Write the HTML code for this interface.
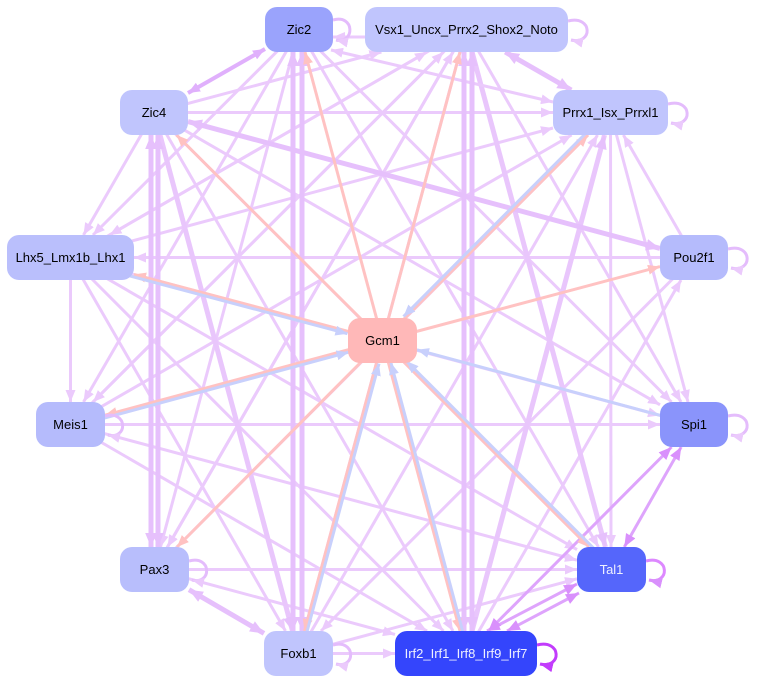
<!DOCTYPE html>
<html><head><meta charset="utf-8"><style>
html,body{margin:0;padding:0;background:#fff;}
svg{display:block;}
text{font-family:"Liberation Sans",Arial,sans-serif;font-size:13px;text-anchor:middle;}
</style></head><body>
<svg width="760" height="683" viewBox="0 0 760 683" xmlns="http://www.w3.org/2000/svg">
<defs>
<marker id="mp" viewBox="0 0 12 10" markerWidth="12" markerHeight="10" refX="12" refY="5" orient="auto-start-reverse" markerUnits="userSpaceOnUse"><path d="M0,0 L12,5 L0,10z" fill="#ebcafc"/></marker>
<marker id="mpt" viewBox="0 0 12 10" markerWidth="14" markerHeight="12" refX="12" refY="5" orient="auto-start-reverse" markerUnits="userSpaceOnUse"><path d="M0,0 L12,5 L0,10z" fill="#e6c0fc"/></marker>
<marker id="md" viewBox="0 0 12 10" markerWidth="12" markerHeight="10" refX="12" refY="5" orient="auto-start-reverse" markerUnits="userSpaceOnUse"><path d="M0,0 L12,5 L0,10z" fill="#e0b0fc"/></marker>
<marker id="ms" viewBox="0 0 12 10" markerWidth="12" markerHeight="10" refX="12" refY="5" orient="auto" markerUnits="userSpaceOnUse"><path d="M0,0 L12,5 L0,10z" fill="#ffc2c2"/></marker>
<marker id="mb" viewBox="0 0 12 10" markerWidth="12" markerHeight="10" refX="12" refY="5" orient="auto" markerUnits="userSpaceOnUse"><path d="M0,0 L12,5 L0,10z" fill="#c8d0fc"/></marker>
<marker id="mv" viewBox="0 0 12 10" markerWidth="13" markerHeight="11" refX="12" refY="5" orient="auto-start-reverse" markerUnits="userSpaceOnUse"><path d="M0,0 L12,5 L0,10z" fill="#d990fc"/></marker>
<marker id="mm" viewBox="0 0 12 10" markerWidth="13" markerHeight="11" refX="12" refY="5" orient="auto" markerUnits="userSpaceOnUse"><path d="M0,0 L12,5 L0,10z" fill="#c23cfc"/></marker>
</defs>

<g stroke="#ebcafc" stroke-width="3" fill="none" marker-end="url(#mp)">
<line x1="365" y1="37" x2="333" y2="37"/>
<line x1="154" y1="112.5" x2="381.4" y2="52"/>
<line x1="154" y1="112.5" x2="553" y2="112.5"/>
<line x1="299" y1="29.5" x2="93" y2="235"/>
<line x1="299" y1="29.5" x2="83.5" y2="402"/>
<line x1="299" y1="29.5" x2="160.5" y2="547"/>
<line x1="299" y1="29.5" x2="671.5" y2="402"/>
<line x1="299" y1="29.5" x2="598.5" y2="547"/>
<line x1="466" y1="29.5" x2="109.5" y2="235"/>
<line x1="466" y1="29.5" x2="93" y2="402"/>
<line x1="466" y1="29.5" x2="167.5" y2="547"/>
<line x1="466" y1="29.5" x2="681" y2="402"/>
<line x1="466" y1="29.5" x2="304.5" y2="631"/>
<line x1="154" y1="112.5" x2="83.5" y2="235"/>
<line x1="154" y1="112.5" x2="453" y2="631"/>
<line x1="154" y1="112.5" x2="589" y2="547"/>
<line x1="154" y1="112.5" x2="660" y2="404.8"/>
<line x1="70.5" y1="257.5" x2="553" y2="128"/>
<line x1="70.5" y1="257.5" x2="427" y2="52"/>
<line x1="694" y1="257.5" x2="134" y2="257.5"/>
<line x1="70.5" y1="257.5" x2="70.5" y2="402"/>
<line x1="70.5" y1="257.5" x2="660" y2="415.4"/>
<line x1="70.5" y1="257.5" x2="577" y2="549.6"/>
<line x1="70.5" y1="257.5" x2="443.5" y2="631"/>
<line x1="70.5" y1="257.5" x2="285.5" y2="631"/>
<line x1="70.5" y1="424.5" x2="660" y2="424.5"/>
<line x1="70.5" y1="424.5" x2="571.6" y2="135"/>
<line x1="70.5" y1="424.5" x2="443.5" y2="52"/>
<line x1="70.5" y1="424.5" x2="577" y2="560.2"/>
<line x1="70.5" y1="424.5" x2="427" y2="631"/>
<line x1="154.5" y1="569.5" x2="577" y2="569.5"/>
<line x1="154.5" y1="569.5" x2="395" y2="634.4"/>
<line x1="154.5" y1="569.5" x2="588" y2="135"/>
<line x1="154.5" y1="569.5" x2="453" y2="52"/>
<line x1="298.5" y1="653.5" x2="395" y2="653.5"/>
<line x1="298.5" y1="653.5" x2="577" y2="578.8"/>
<line x1="298.5" y1="653.5" x2="597.5" y2="135"/>
<line x1="466" y1="653.5" x2="681" y2="280"/>
<line x1="610.5" y1="112.5" x2="611" y2="547"/>
<line x1="610.5" y1="112.5" x2="688" y2="402"/>
<line x1="694" y1="257.5" x2="321" y2="631"/>
<line x1="694" y1="257.5" x2="623.4" y2="135"/>
</g>
<g stroke="#e9c6fc" stroke-width="5" fill="none" marker-end="url(#mpt)">
<line x1="466" y1="29.5" x2="605.4" y2="547"/>
<line x1="154" y1="112.5" x2="292.5" y2="631"/>
<line x1="466" y1="653.5" x2="604.5" y2="135"/>
</g>
<g stroke="#ebcafc" stroke-width="3" fill="none" marker-start="url(#mp)" marker-end="url(#mp)">
<line x1="331" y1="50" x2="553" y2="102"/>
</g>
<g stroke="#e0b0fc" stroke-width="4" fill="none" marker-start="url(#md)" marker-end="url(#md)">
<line x1="265" y1="49" x2="188" y2="93"/>
</g>
<g stroke="#e6c0fc" stroke-width="5" fill="none" marker-start="url(#mpt)" marker-end="url(#mpt)">
<line x1="188" y1="121.6" x2="660" y2="248.4"/>
<line x1="505.2" y1="52" x2="571.3" y2="90"/>
<line x1="293" y1="52" x2="293" y2="631"/>
<line x1="302" y1="52" x2="302" y2="631"/>
<line x1="464" y1="52" x2="464" y2="631"/>
<line x1="472" y1="52" x2="472" y2="631"/>
<line x1="151" y1="135" x2="151" y2="547"/>
<line x1="158" y1="135" x2="158" y2="547"/>
<line x1="189" y1="589.7" x2="264" y2="633.4"/>
</g>
<g stroke="#dea4fc" stroke-width="3" fill="none" marker-start="url(#mv)" marker-end="url(#mv)">
<line x1="487" y1="631" x2="577" y2="584"/>
<line x1="507" y1="631" x2="579" y2="593"/>
<line x1="488.4" y1="631" x2="671.6" y2="447"/>
<line x1="624.3" y1="547" x2="681.2" y2="447"/>
</g>

<g stroke="#ffc2c2" stroke-width="3" fill="none" marker-end="url(#ms)">
<line x1="382.5" y1="340.5" x2="305" y2="52"/>
<line x1="382.5" y1="340.5" x2="460" y2="52"/>
<line x1="382.5" y1="340.5" x2="176.5" y2="135"/>
<line x1="382.5" y1="340.5" x2="588" y2="135"/>
<line x1="382.5" y1="340.5" x2="134" y2="274.4"/>
<line x1="382.5" y1="340.5" x2="660" y2="266.6"/>
<line x1="382.5" y1="340.5" x2="105" y2="415.2"/>
<line x1="382.5" y1="340.5" x2="177" y2="547"/>
<line x1="382.5" y1="340.5" x2="304.5" y2="631"/>
<line x1="382.5" y1="340.5" x2="460" y2="631"/>
<line x1="382.5" y1="340.5" x2="589" y2="547"/>
</g>
<g stroke="#c8d0fc" stroke-width="3" fill="none" marker-end="url(#mb)">
<line x1="608.5" y1="110.5" x2="403.5" y2="316.5"/>
<line x1="70" y1="260" x2="347.4" y2="333.7"/>
<line x1="71" y1="427" x2="348.6" y2="352.2"/>
<line x1="301" y1="654" x2="379" y2="363.6"/>
<line x1="468.4" y1="652.9" x2="390.9" y2="362.6"/>
<line x1="613.2" y1="567.8" x2="406.7" y2="361.3"/>
<line x1="694" y1="424.5" x2="417" y2="349.8"/>
</g>

<g stroke="#e4bcfc" stroke-width="3" fill="none" marker-end="url(#mp)">
<path d="M333,20 C355,14 355,44 336,40"/>
<path d="M568,21 C593,15 593,45 571,40"/>
<path d="M668,104 C693,98 693,128 671,123"/>
<path d="M728,249 C753,243 753,273 731,268"/>
<path d="M728,416 C753,410 753,440 731,435"/>
<path d="M105,416 C128,410 128,440 108,435"/>
<path d="M189,561 C212,555 212,585 192,580"/>
<path d="M333,645 C356,639 356,669 336,664"/>
</g>
<path d="M646,561 C670,555 670,585 649,580" stroke="#dd88ff" stroke-width="3" fill="none" marker-end="url(#mv)"/>
<path d="M537,645 C562,639 562,669 540,664" stroke="#c23cfc" stroke-width="3" fill="none" marker-end="url(#mm)"/>

<rect x="265" y="7" width="68" height="45" rx="12" fill="#9aa3fc"/>
<rect x="365" y="7" width="203" height="45" rx="12" fill="#c0c5fd"/>
<rect x="120" y="90" width="68" height="45" rx="12" fill="#c0c5fd"/>
<rect x="553" y="90" width="115" height="45" rx="12" fill="#c0c5fd"/>
<rect x="7" y="235" width="127" height="45" rx="12" fill="#babffc"/>
<rect x="660" y="235" width="68" height="45" rx="12" fill="#b5bbfc"/>
<rect x="348" y="318" width="69" height="45" rx="12" fill="#ffb8b8"/>
<rect x="36" y="402" width="69" height="45" rx="12" fill="#b5bbfc"/>
<rect x="660" y="402" width="68" height="45" rx="12" fill="#8a94fb"/>
<rect x="120" y="547" width="69" height="45" rx="12" fill="#b8befc"/>
<rect x="577" y="547" width="69" height="45" rx="12" fill="#5566fb"/>
<rect x="264" y="631" width="69" height="45" rx="12" fill="#c0c5fd"/>
<rect x="395" y="631" width="142" height="45" rx="12" fill="#3445fc"/>

<g fill="#000">
<text x="299" y="34">Zic2</text>
<text x="466.5" y="34">Vsx1_Uncx_Prrx2_Shox2_Noto</text>
<text x="154" y="117">Zic4</text>
<text x="610.5" y="117">Prrx1_Isx_Prrxl1</text>
<text x="70.5" y="262">Lhx5_Lmx1b_Lhx1</text>
<text x="694" y="262">Pou2f1</text>
<text x="382.5" y="345">Gcm1</text>
<text x="70.5" y="429">Meis1</text>
<text x="694" y="429">Spi1</text>
<text x="154.5" y="574">Pax3</text>
<text x="298.5" y="658">Foxb1</text>
</g>
<g fill="#eef0ff">
<text x="611.5" y="574">Tal1</text>
<text x="466" y="658">Irf2_Irf1_Irf8_Irf9_Irf7</text>
</g>
</svg>
</body></html>
